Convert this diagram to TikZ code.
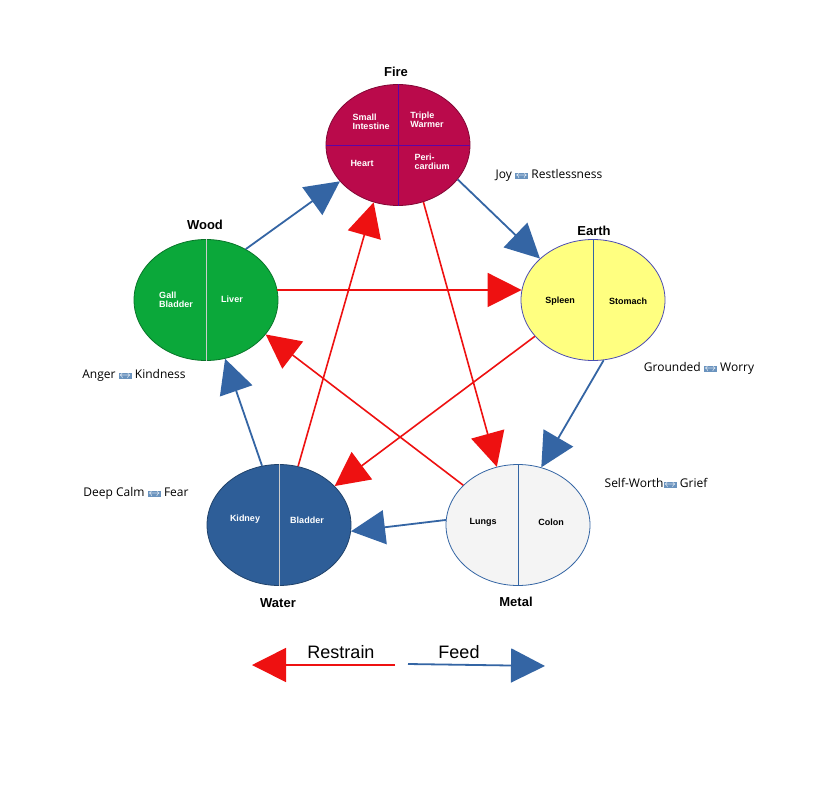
\documentclass[tikz,border=0pt]{standalone}
\usepackage{fontspec}
\setmainfont{Liberation Sans}
\newfontfamily\osans{Open Sans}
\usetikzlibrary{shapes.geometric,arrows.meta}
\definecolor{fireC}{HTML}{BA0A4B}
\definecolor{woodC}{HTML}{0BA83A}
\definecolor{earthC}{HTML}{FFFF80}
\definecolor{waterC}{HTML}{2E5E98}
\definecolor{metalC}{HTML}{F4F4F4}
\definecolor{feedC}{HTML}{3465A4}
\definecolor{resC}{HTML}{EE1111}
\definecolor{lrbox}{HTML}{6A93BE}
\newcommand{\lrsym}{{\setlength{\fboxsep}{0.6pt}\colorbox{lrbox}{\textcolor{white}{$\leftrightarrow$}}}}
\begin{document}
\begin{tikzpicture}[x=1pt,y=-1pt,
  el/.style={ellipse,draw=#1!70!black,minimum width=144pt,minimum height=121pt,inner sep=0pt,line width=0.8pt},
  dv/.style={draw=#1,line width=0.8pt},
  title/.style={font=\fontsize{13}{15}\selectfont\bfseries},
  org/.style={font=\fontsize{9}{10}\selectfont\bfseries,align=left,text=#1},
  mood/.style={font=\osans\fontsize{12}{14}\selectfont},
  feed/.style={draw=feedC,line width=1.8pt,-{Triangle[length=34pt,width=34pt]}},
  res/.style={draw=resC,line width=1.6pt,-{Triangle[length=34pt,width=34pt]}}]
\useasboundingbox[fill=white] (0,0) rectangle (816,806);
\node[el=fireC,fill=fireC] (fire) at (398,145) {};
\node[el=woodC,fill=woodC] (wood) at (206,300) {};
\node[el=earthC,fill=earthC,draw=gray!60!blue] (earth) at (593,300) {};
\node[el=waterC,fill=waterC] (water) at (279,525) {};
\node[el=metalC,fill=metalC,draw=feedC] (metal) at (518,525) {};
\draw[dv=fireC!50!blue] (fire.north) -- (fire.south) (fire.west) -- (fire.east);
\draw[dv=white!80!black] (wood.north) -- (wood.south);
\draw[dv=feedC] (earth.north) -- (earth.south);
\draw[dv=white!80!black] (water.north) -- (water.south);
\draw[dv=feedC] (metal.north) -- (metal.south);
\node[org=white] (si) at (371,122) {Small\\[-1pt]Intestine};
\node[org=white] (tw) at (427,120) {Triple\\[-1pt]Warmer};
\node[org=white] (he) at (362,163) {Heart};
\node[org=white] (pc) at (432,162) {Peri-\\[-1pt]cardium};
\node[org=white] (gb) at (176,300) {Gall\\[-1pt]Bladder};
\node[org=white] (li) at (232,299) {Liver};
\node[org=black] (sp) at (560,301) {Spleen};
\node[org=black] (st) at (628,301) {Stomach};
\node[org=white] (ki) at (245,519) {Kidney};
\node[org=white] (bl) at (307,520) {Bladder};
\node[org=black] (lu) at (483,522) {Lungs};
\node[org=black] (co) at (551,522) {Colon};
\node[title] (tfire) at (396,72) {Fire};
\node[title] (twood) at (205,225) {Wood};
\node[title] (tearth) at (594,231) {Earth};
\node[title] (twater) at (278,603) {Water};
\node[title] (tmetal) at (516,602) {Metal};
\node[mood] (m1) at (549,175) {Joy \lrsym{} Restlessness};
\node[mood] (m2) at (134,375) {Anger \lrsym{} Kindness};
\node[mood] (m3) at (699,368) {Grounded \lrsym{} Worry};
\node[mood] (m4) at (136,493) {Deep Calm \lrsym{} Fear};
\node[mood] (m5) at (656,483) {Self-Worth\lrsym{} Grief};
\draw[feed] (wood.52) -- (fire.212);
\draw[feed] (fire.-30) -- (earth.142);
\draw[feed] (earth.-80) -- (metal.68);
\draw[feed] (metal.176) -- (water.-5);
\draw[feed] (water.106) -- (wood.-72);
\draw[res] (wood.8) -- (earth.172);
\draw[res] (earth.212) -- (water.35);
\draw[res] (water.72) -- (fire.247);
\draw[res] (fire.294) -- (metal.110);
\draw[res] (metal.144) -- (wood.330);
\coordinate (rs) at (395,665);
\coordinate (re) at (252,665);
\coordinate (fs) at (408,664);
\coordinate (fe) at (545,666);
\draw[res] (rs) -- (re);
\draw[feed] (fs) -- (fe);
\node[font=\fontsize{18}{20}\selectfont] (lr) at (341,652) {Restrain};
\node[font=\fontsize{18}{20}\selectfont] (lf) at (459,652) {Feed};
\end{tikzpicture}
\end{document}
